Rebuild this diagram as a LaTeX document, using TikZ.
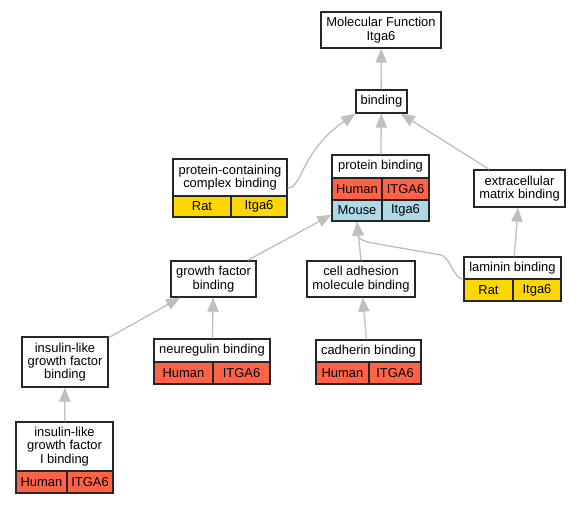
\documentclass[tikz,border=0pt]{standalone}
\usepackage{fontspec}
\setmainfont{Liberation Sans}
\usetikzlibrary{arrows.meta}
\definecolor{human}{HTML}{FF6347}
\definecolor{mouse}{HTML}{ADD8E6}
\definecolor{rat}{HTML}{FFD700}
\newcommand{\termfont}{\fontsize{9.7pt}{10pt}\selectfont}

\begin{document}
\begin{tikzpicture}[
  x=0.75pt, y=-0.75pt,
  term/.style={
    draw=black!85, fill=white, line width=1pt,
    inner sep=0pt, align=center, font=\termfont
  },
  wh/.style 2 args={minimum width=#1*0.75pt, minimum height=#2*0.75pt},
  head/.style={font=\termfont, align=center, inner sep=0pt},
  cell/.style={draw=black!85, line width=1pt, inner sep=0pt, font=\termfont},
  humancell/.style={cell, fill=human},
  mousecell/.style={cell, fill=mouse},
  ratcell/.style={cell, fill=rat},
  isa/.style={draw=gray!50, line width=1pt, -{Triangle[length=10.5pt, width=8.5pt]}}
]
\useasboundingbox (0,0) rectangle (581,504);

% Top of the tree
\node[term, wh={120}{36}] (mf)   at (381,30)    {Molecular Function\\Itga6};
\node[term, wh={51}{23}]  (bind) at (381.5,101.5) {binding};

% protein-containing complex binding
\node[term, wh={114}{58}] (pcb) at (230,188) {};
\node[head] (pcbh) at (230,177.5) {protein-containing\\complex binding};
\node[ratcell, wh={58}{21}] (pcbr) at (202,206.5) {Rat};
\node[ratcell, wh={56}{21}] (pcbi) at (259,206.5) {Itga6};

% protein binding
\node[term, wh={97}{66}] (pb) at (380.5,188) {};
\node[head] (pbh) at (380.5,166.5) {protein binding};
\node[humancell, wh={50}{22}] (pbhu)  at (357,189)     {Human};
\node[humancell, wh={47}{22}] (pbhui) at (405.5,189)   {ITGA6};
\node[mousecell, wh={50}{21}] (pbm)   at (357,210.5)   {Mouse};
\node[mousecell, wh={47}{21}] (pbmi)  at (405.5,210.5) {Itga6};

\node[term, wh={91}{37}] (ecm) at (519.5,188.5) {extracellular\\matrix binding};
\node[term, wh={85}{36}] (gf)  at (213.5,279)   {growth factor\\binding};
\node[term, wh={108}{36}] (cam) at (361,279)    {cell adhesion\\molecule binding};

% laminin binding
\node[term, wh={97}{44}] (lam) at (512.5,279) {};
\node[head] (lamh) at (512.5,268) {laminin binding};
\node[ratcell, wh={49}{22}] (lamr) at (488.5,290) {Rat};
\node[ratcell, wh={48}{22}] (lami) at (537,290)   {Itga6};

\node[term, wh={86}{50}] (igfb) at (65,362) {insulin-like\\growth factor\\binding};

% neuregulin binding
\node[term, wh={116}{45}] (nrg) at (212,361.5) {};
\node[head] (nrgh) at (212,350.5) {neuregulin binding};
\node[humancell, wh={59}{22}] (nrghu) at (183.5,373) {Human};
\node[humancell, wh={57}{22}] (nrgi)  at (241.5,373) {ITGA6};

% cadherin binding
\node[term, wh={105}{44}] (cdh) at (368.5,362) {};
\node[head] (cdhh) at (368.5,351) {cadherin binding};
\node[humancell, wh={53}{22}] (cdhhu) at (342.5,373) {Human};
\node[humancell, wh={52}{22}] (cdhi)  at (395,373)   {ITGA6};

% insulin-like growth factor I binding
\node[term, wh={97}{71}] (igf1b) at (64.5,457.5) {};
\node[head] (igf1bh) at (64.5,446.5) {insulin-like\\growth factor\\I binding};
\node[humancell, wh={51}{22}] (igf1bhu) at (41.5,482) {Human};
\node[humancell, wh={46}{22}] (igf1bi)  at (90,482)   {ITGA6};

% is_a edges
\draw[isa] (bind) -- (mf);
\draw[isa] (pb) -- (bind);
\draw[isa] (pcb.east) .. controls +(15,0) and +(-55,38) .. (bind.south west);
\draw[isa] (ecm) -- (bind);
\draw[isa] (gf) -- (pb);
\draw[isa] (cam.north) -- (pbm.south);
\draw[isa] (lam.west) .. controls +(-10,0) and +(10,3) .. (441,255)
  -- (372,243) .. controls +(-10,-2) and +(1,16) .. (pbm.south);
\draw[isa] (lam) -- (ecm);
\draw[isa] (igfb) -- (gf);
\draw[isa] (nrg) -- (gf);
\draw[isa] (cdh) -- (cam);
\draw[isa] (igf1b) -- (igfb);

\end{tikzpicture}
\end{document}
